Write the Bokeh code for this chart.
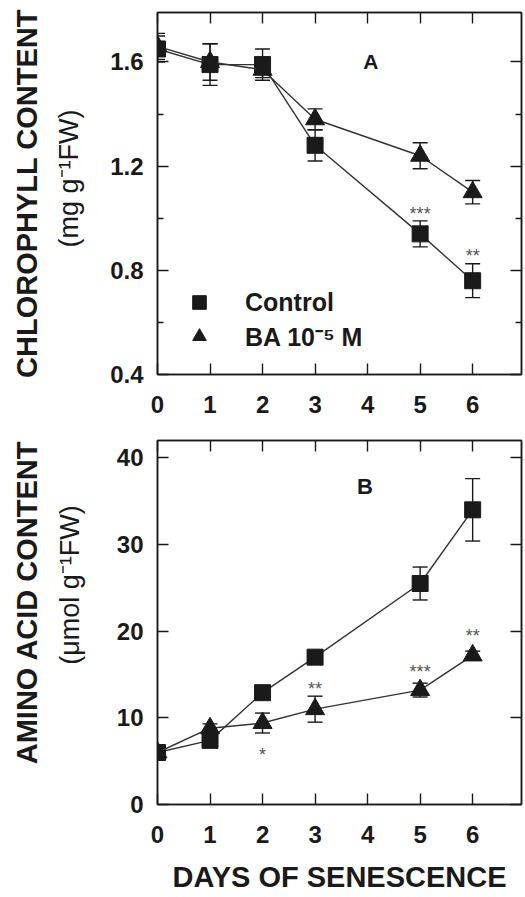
from bokeh.plotting import figure
from bokeh.models import (ColumnDataSource, Whisker, TeeHead, LinearAxis, FixedTicker,
                          Range1d, Legend, LegendItem)
from bokeh.layouts import column
from bokeh.embed import file_html
from bokeh.resources import INLINE
from bokeh.core.properties import value

# ---------------- data ----------------
days = [0, 1, 2, 3, 5, 6]

chl_control = [1.65, 1.59, 1.59, 1.28, 0.94, 0.76]
chl_control_err = [0.05, 0.08, 0.06, 0.06, 0.05, 0.065]
chl_ba = [1.66, 1.60, 1.57, 1.38, 1.24, 1.10]
chl_ba_err = [0.05, 0.07, 0.03, 0.04, 0.05, 0.045]

aa_control = [6.0, 7.4, 12.9, 17.0, 25.5, 34.0]
aa_control_err = [0.4, 0.4, 0.4, 0.5, 1.9, 3.6]
aa_ba = [6.0, 8.8, 9.4, 11.0, 13.2, 17.2]
aa_ba_err = [0.3, 0.5, 1.15, 1.5, 0.8, 0.5]

chl_star_x = [5, 6]
chl_star_y = [1.035, 0.873]
chl_star_text = ["***", "**"]

aa_star_x = [2, 3, 5, 6]
aa_star_y = [6.3, 13.9, 15.9, 20.0]
aa_star_text = ["*", "**", "***", "**"]

x_ticks = [0, 1, 2, 3, 4, 5, 6]
chl_ticks = [0.4, 0.8, 1.2, 1.6]
chl_minor = [0.6, 1.0, 1.4]
aa_ticks = [0, 10, 20, 30, 40]

series_names = ["Control", "BA 10\u207b\u2075 M"]

FONT = "Liberation Sans"
INK = "#1a1a1a"
LINE = "#333333"
NB = "\u00a0"


def style_axes(p, yticks, yminor):
    xa = p.below[0]
    ya = p.left[0]
    xa.ticker = FixedTicker(ticks=x_ticks)
    ya.ticker = FixedTicker(ticks=yticks, minor_ticks=yminor)
    for ax in (xa, ya):
        ax.axis_line_color = INK
        ax.axis_line_width = 1.6
        ax.major_tick_line_color = INK
        ax.major_tick_line_width = 1.4
        ax.minor_tick_line_color = INK
        ax.minor_tick_line_width = 1.4
        ax.major_tick_in = 11
        ax.major_tick_out = 0
        ax.minor_tick_in = 6
        ax.minor_tick_out = 0
        ax.major_label_text_font = FONT
        ax.major_label_text_font_style = "bold"
        ax.major_label_text_font_size = "24px"
        ax.major_label_text_color = INK
    xa.major_label_standoff = 21
    ya.major_label_standoff = 14

    top = LinearAxis(ticker=FixedTicker(ticks=x_ticks), major_label_text_font_size="0px",
                     major_label_text_color=None,
                     major_label_standoff=0, major_tick_in=11, major_tick_out=0,
                     axis_line_color=INK, axis_line_width=1.6,
                     major_tick_line_color=INK, major_tick_line_width=1.4)
    right = LinearAxis(ticker=FixedTicker(ticks=yticks, minor_ticks=yminor),
                       major_label_text_font_size="0px", major_label_text_color=None,
                       major_label_standoff=0,
                       major_tick_in=11, major_tick_out=0, minor_tick_in=6, minor_tick_out=0,
                       axis_line_color=INK, axis_line_width=1.6,
                       major_tick_line_color=INK, major_tick_line_width=1.4,
                       minor_tick_line_color=INK, minor_tick_line_width=1.4)
    p.add_layout(top, "above")
    p.add_layout(right, "right")
    p.xgrid.visible = False
    p.ygrid.visible = False
    p.outline_line_color = INK
    p.outline_line_width = 1.4


def ytitles(p, inner_text, inner_standoff, outer_text, outer_standoff):
    ya = p.left[0]
    ya.axis_label = inner_text
    ya.axis_label_text_font = FONT
    ya.axis_label_text_font_style = "normal"
    ya.axis_label_text_font_size = "27px"
    ya.axis_label_text_color = INK
    ya.axis_label_standoff = inner_standoff
    outer = LinearAxis(axis_label=outer_text, axis_label_text_font=FONT,
                       axis_label_text_font_style="bold", axis_label_text_font_size="29px",
                       axis_label_text_color=INK, axis_label_standoff=outer_standoff,
                       ticker=FixedTicker(ticks=[]),
                       major_label_text_font_size="0px", major_label_text_color=None,
                       major_label_standoff=0,
                       major_tick_in=0, major_tick_out=0, minor_tick_in=0, minor_tick_out=0,
                       axis_line_color=None, major_tick_line_color=None,
                       minor_tick_line_color=None)
    p.add_layout(outer, "left")


def draw_series(p, x, y, err, marker, size):
    src = ColumnDataSource(dict(x=x, y=y,
                                upper=[a + b for a, b in zip(y, err)],
                                lower=[a - b for a, b in zip(y, err)]))
    p.add_layout(Whisker(base="x", upper="upper", lower="lower", source=src,
                         line_color=INK, line_width=1.4,
                         upper_head=TeeHead(size=15, line_color=INK, line_width=1.4),
                         lower_head=TeeHead(size=15, line_color=INK, line_width=1.4)))
    p.line("x", "y", source=src, line_color=LINE, line_width=1.4)
    return p.scatter("x", "y", source=src, marker=marker, size=size,
                     fill_color=INK, line_color=INK)


# ---------------- panel A ----------------
pA = figure(width=525, height=424, x_range=Range1d(0, 6.93), y_range=Range1d(0.4, 1.79),
            output_backend="svg", toolbar_location=None,
            min_border_left=157, min_border_right=4, min_border_top=12, min_border_bottom=50)
style_axes(pA, chl_ticks, chl_minor)
ytitles(pA, NB * 4 + "(mg g\u207b\u00b9FW)", 23, "CHLOROPHYLL CONTENT", 9)
rA1 = draw_series(pA, days, chl_control, chl_control_err, "square", 16)
rA2 = draw_series(pA, days, chl_ba, chl_ba_err, "triangle", 19)
pA.text(x=chl_star_x, y=chl_star_y, text=chl_star_text, text_font=value(FONT),
        text_font_size="18px", text_color="#555555", text_align="center",
        text_baseline="middle", y_offset=5)
pA.text(x=[4.06], y=[1.6], text=["A"], text_font=value(FONT), text_font_style="bold",
        text_font_size="21px", text_color=INK, text_align="center", text_baseline="middle")
legend = Legend(items=[LegendItem(label=series_names[0], renderers=[rA1]),
                       LegendItem(label=series_names[1], renderers=[rA2])],
                location=(22, 21), border_line_alpha=0, background_fill_alpha=0,
                padding=0, margin=0, spacing=0, glyph_width=40, glyph_height=34,
                label_standoff=26, label_text_font=FONT, label_text_font_style="bold",
                label_text_font_size="25px", label_text_color=INK, label_height=30)
pA.add_layout(legend)

# ---------------- panel B ----------------
pB = figure(width=525, height=473, x_range=Range1d(0, 6.93), y_range=Range1d(0, 42),
            output_backend="svg", toolbar_location=None,
            min_border_left=157, min_border_right=4, min_border_top=16, min_border_bottom=93)
style_axes(pB, aa_ticks, [])
ytitles(pB, NB * 10 + "(\u03bcmol g\u207b\u00b9FW)", 29, NB * 5 + "AMINO ACID CONTENT", 9)
xa = pB.below[0]
xa.axis_label = "DAYS OF SENESCENCE"
xa.axis_label_text_font = FONT
xa.axis_label_text_font_style = "bold"
xa.axis_label_text_font_size = "29px"
xa.axis_label_text_color = INK
xa.axis_label_standoff = 15
draw_series(pB, days, aa_control, aa_control_err, "square", 16)
draw_series(pB, days, aa_ba, aa_ba_err, "triangle", 19)
pB.text(x=aa_star_x, y=aa_star_y, text=aa_star_text, text_font=value(FONT),
        text_font_size="18px", text_color="#555555", text_align="center",
        text_baseline="middle", y_offset=5)
pB.text(x=[3.95], y=[36.7], text=["B"], text_font=value(FONT), text_font_style="bold",
        text_font_size="22px", text_color=INK, text_align="center", text_baseline="middle")

layout = column(pA, pB, spacing=0)
open("out.html", "w").write(file_html(layout, INLINE))
